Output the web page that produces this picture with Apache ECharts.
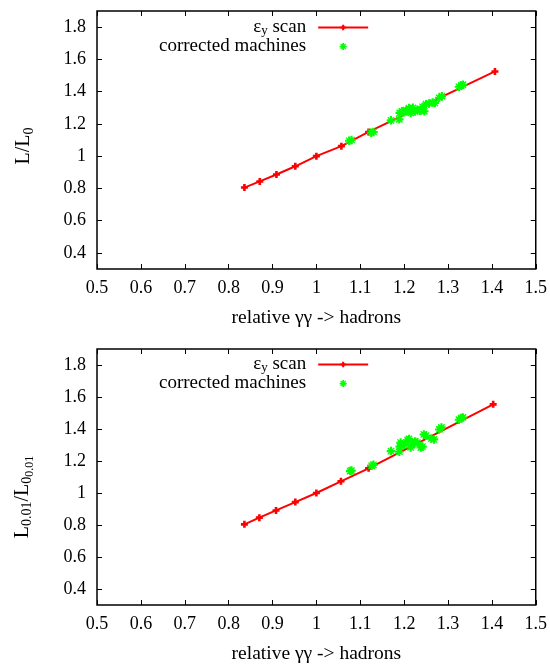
<!DOCTYPE html>
<html><head><meta charset="utf-8">
<script src="https://cdn.jsdelivr.net/npm/echarts@6/dist/echarts.min.js"></script>
<style>html,body{margin:0;padding:0;background:#fff}#c{width:550px;height:665px}</style>
</head><body><div id="c"></div>
<script>
// ε_y scan (red) – top panel: L/L0
const scanXTop = [0.836, 0.871, 0.909, 0.952, 1.000, 1.057, 1.119, 1.407];
const scanYTop = [0.805, 0.843, 0.886, 0.937, 1.000, 1.062, 1.150, 1.525];
// corrected machines (green) – top panel
const corrXTop = [1.075, 1.080, 1.125, 1.130, 1.170, 1.189, 1.190, 1.195, 1.200, 1.205, 1.211, 1.215, 1.220, 1.225, 1.230, 1.236, 1.242, 1.246, 1.250, 1.257, 1.265, 1.270, 1.280, 1.286, 1.325, 1.330, 1.334];
const corrYTop = [1.095, 1.100, 1.145, 1.150, 1.222, 1.228, 1.268, 1.278, 1.272, 1.285, 1.298, 1.267, 1.300, 1.276, 1.288, 1.282, 1.306, 1.278, 1.322, 1.327, 1.333, 1.330, 1.362, 1.372, 1.430, 1.438, 1.443];
// ε_y scan (red) – bottom panel: L0.01/L0_0.01
const scanXBot = [0.836, 0.870, 0.908, 0.952, 1.000, 1.056, 1.119, 1.403];
const scanYBot = [0.804, 0.846, 0.891, 0.943, 1.000, 1.073, 1.154, 1.554];
// corrected machines (green) – bottom panel
const corrXBot = [1.077, 1.080, 1.126, 1.130, 1.170, 1.189, 1.190, 1.192, 1.200, 1.208, 1.211, 1.215, 1.219, 1.225, 1.230, 1.238, 1.242, 1.245, 1.250, 1.262, 1.268, 1.280, 1.285, 1.325, 1.330, 1.334];
const corrYBot = [1.137, 1.140, 1.170, 1.176, 1.262, 1.258, 1.290, 1.315, 1.300, 1.330, 1.338, 1.285, 1.305, 1.322, 1.315, 1.284, 1.290, 1.366, 1.358, 1.340, 1.335, 1.397, 1.410, 1.458, 1.468, 1.472];
// ticks
const xTicks = [0.5, 0.6, 0.7, 0.8, 0.9, 1.0, 1.1, 1.2, 1.3, 1.4, 1.5];
const yTicks = [0.4, 0.6, 0.8, 1.0, 1.2, 1.4, 1.6, 1.8];
const xTitle = 'relative γγ -> hadrons';
const nameScan = 'scan';
const nameCorr = 'corrected machines';

const FONT = '"Liberation Serif","Times New Roman",serif';
const zip = (a, b) => a.map((v, i) => [v, b[i]]);
const fmt = v => String(+(+v).toFixed(1));

const plusPath = 'path://M0,2.2 L7,2.2 L7,4.8 L0,4.8 Z M2.2,0 L4.8,0 L4.8,7 L2.2,7 Z';
const starPath = 'path://M3,0 L5,0 L5,2 L6.6,0.6 L7.4,1.4 L6,3 L8,3 L8,5 L6,5 L7.4,6.6 L6.6,7.4 L5,6 L5,8 L3,8 L3,6 L1.4,7.4 L0.6,6.6 L2,5 L0,5 L0,3 L2,3 L0.6,1.4 L1.4,0.6 L3,2 Z';

const grids = [
  {left: 97, top: 11, width: 440, height: 258, show: true, borderColor: '#000', borderWidth: 1.5, backgroundColor: 'transparent'},
  {left: 97, top: 349, width: 440, height: 258, show: true, borderColor: '#000', borderWidth: 1.5, backgroundColor: 'transparent'}
];

const xAxes = [], yAxes = [];
[0, 1].forEach(g => {
  xAxes.push({
    type: 'value', gridIndex: g, min: 0.5, max: 1.5, position: 'bottom',
    name: xTitle, nameLocation: 'middle', nameGap: 39,
    nameTextStyle: {fontFamily: FONT, fontSize: 19.5, color: '#000'},
    axisLine: {show: false}, splitLine: {show: false},
    axisTick: {show: true, inside: true, length: 5, customValues: xTicks, lineStyle: {color: '#000', width: 1}},
    axisLabel: {show: true, customValues: xTicks, formatter: fmt, margin: 10, fontFamily: FONT, fontSize: 18, color: '#000'}
  });
  xAxes.push({
    type: 'value', gridIndex: g, min: 0.5, max: 1.5, position: 'top',
    axisLine: {show: false}, splitLine: {show: false},
    axisTick: {show: true, inside: true, length: 5, customValues: xTicks, lineStyle: {color: '#000', width: 1}},
    axisLabel: {show: false}
  });
  yAxes.push({
    type: 'value', gridIndex: g, min: 0.3, max: 1.9, position: 'left',
    axisLine: {show: false}, splitLine: {show: false},
    axisTick: {show: true, inside: true, length: 5, customValues: yTicks, lineStyle: {color: '#000', width: 1}},
    axisLabel: {show: true, customValues: yTicks, formatter: fmt, margin: 11, fontFamily: FONT, fontSize: 18, color: '#000'}
  });
  yAxes.push({
    type: 'value', gridIndex: g, min: 0.3, max: 1.9, position: 'right',
    axisLine: {show: false}, splitLine: {show: false},
    axisTick: {show: true, inside: true, length: 5, customValues: yTicks, lineStyle: {color: '#000', width: 1}},
    axisLabel: {show: false}
  });
});

function scanSeries(g, xs, ys) {
  return {
    name: nameScan, type: 'line', xAxisIndex: 2 * g, yAxisIndex: 2 * g,
    data: zip(xs, ys), symbol: plusPath, symbolSize: 7, showSymbol: true,
    lineStyle: {color: '#ff0000', width: 2}, itemStyle: {color: '#ff0000'},
    animation: false, z: 2
  };
}
function corrSeries(g, xs, ys) {
  return {
    name: nameCorr, type: 'scatter', xAxisIndex: 2 * g, yAxisIndex: 2 * g,
    data: zip(xs, ys), symbol: starPath, symbolSize: 8.5,
    itemStyle: {color: '#00ff00', opacity: 1}, animation: false, z: 3
  };
}

const legendRich = {
  a: {fontFamily: FONT, fontSize: 19, color: '#000', lineHeight: 19},
  s: {fontFamily: FONT, fontSize: 13, color: '#000', verticalAlign: 'bottom', lineHeight: 12}
};
function legendOf(top) {
  return {
    top: top, left: 159, orient: 'vertical', align: 'right', padding: 0,
    itemWidth: 50, itemHeight: 7, itemGap: 0,
    data: [{name: nameScan}, {name: nameCorr}],
    formatter: n => n === nameScan ? '{a|ε}{s|y}{a| scan}' : '{a|' + n + '}',
    textStyle: {fontFamily: FONT, fontSize: 19, color: '#000', padding: [0, 7, 0, 0], rich: legendRich},
    selectedMode: false
  };
}

const chart = echarts.init(document.getElementById('c'), null, {renderer: 'canvas'});
chart.setOption({
  animation: false,
  backgroundColor: '#fff',
  grid: grids,
  xAxis: xAxes,
  yAxis: yAxes,
  legend: [legendOf(18), legendOf(355)],
  series: [
    scanSeries(0, scanXTop, scanYTop), corrSeries(0, corrXTop, corrYTop),
    scanSeries(1, scanXBot, scanYBot), corrSeries(1, corrXBot, corrYBot)
  ],
  graphic: [
    {
      type: 'text', x: 24, y: 146, rotation: Math.PI / 2,
      style: {
        text: '{a|L/L}{s|0}', align: 'center', verticalAlign: 'middle',
        textAlign: 'center', textVerticalAlign: 'middle',
        rich: {
          a: {fontFamily: FONT, fontSize: 20, fill: '#000', color: '#000', lineHeight: 24},
          s: {fontFamily: FONT, fontSize: 14, fill: '#000', color: '#000', verticalAlign: 'bottom', lineHeight: 12}
        }
      }
    },
    {
      type: 'text', x: 23, y: 497, rotation: Math.PI / 2,
      style: {
        text: '{a|L}{s|0.01}{a|/L}{s|0}{ss|0.01}', align: 'center', verticalAlign: 'middle',
        textAlign: 'center', textVerticalAlign: 'middle',
        rich: {
          a: {fontFamily: FONT, fontSize: 20, fill: '#000', color: '#000', lineHeight: 26},
          s: {fontFamily: FONT, fontSize: 14, fill: '#000', color: '#000', verticalAlign: 'bottom', lineHeight: 12, padding: [0, 0, 2, 0]},
          ss: {fontFamily: FONT, fontSize: 12, fill: '#000', color: '#000', verticalAlign: 'bottom', lineHeight: 10}
        }
      }
    }
  ]
});
</script></body></html>
